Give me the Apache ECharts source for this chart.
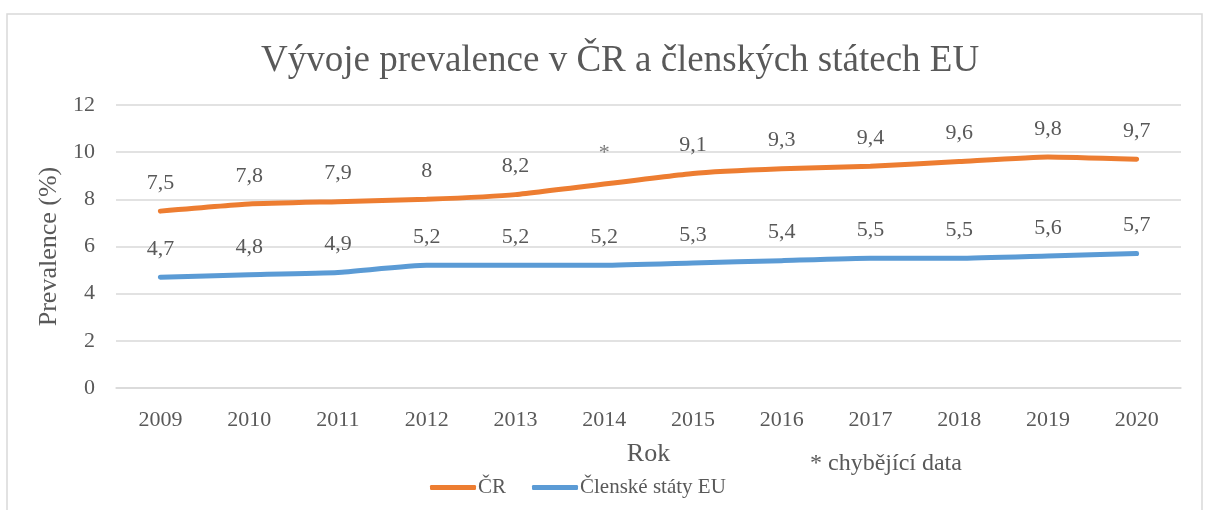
<!DOCTYPE html>
<html lang="cs">
<head>
    <meta charset="UTF-8">
    <title>Vývoje prevalence</title>
    <script src="https://cdn.jsdelivr.net/npm/echarts@6/dist/echarts.min.js"></script>
    <style>
        html, body { margin: 0; padding: 0; background: #fff; }
        #chart { width: 1205px; height: 510px; }
    </style>
</head>
<body>
<div id="chart"></div>
<script>
    // data
    var years = ['2009', '2010', '2011', '2012', '2013', '2014', '2015', '2016', '2017', '2018', '2019', '2020'];
    var cr = [7.5, 7.8, 7.9, 8, 8.2, null, 9.1, 9.3, 9.4, 9.6, 9.8, 9.7];   // 2014 chybí
    var eu = [4.7, 4.8, 4.9, 5.2, 5.2, 5.2, 5.3, 5.4, 5.5, 5.5, 5.6, 5.7];
    var missing = [['2014', 8.65]];   // kde je hvězdička

    var font = 'Liberation Serif, Times New Roman, serif';
    var grey = '#595959';

    var chart = echarts.init(document.getElementById('chart'));

    // desetinná čárka
    function fmt(p) {
        return String(p.value).replace('.', ',');
    }

    var option = {
        animation: false,
        textStyle: { fontFamily: font },
        title: {
            text: 'Vývoje prevalence v ČR a členských státech EU',
            left: 256,
            top: 38,
            textStyle: { fontFamily: font, fontSize: 37, fontWeight: 'normal', color: grey }
        },
        legend: {
            bottom: 7,
            left: 425,
            itemGap: 26,
            itemWidth: 46,
            itemHeight: 5,
            icon: 'roundRect',
            data: ['ČR', 'Členské státy EU'],
            textStyle: { fontFamily: font, fontSize: 21, color: grey, padding: [0, 0, 0, -3] }
        },
        grid: { left: 116, right: 24, top: 105, bottom: 122 },
        xAxis: {
            type: 'category',
            data: years,
            name: 'Rok',
            nameLocation: 'middle',
            nameGap: 53,
            nameTextStyle: { fontFamily: font, fontSize: 26, color: grey },
            axisLine: { show: true, lineStyle: { color: '#d9d9d9', width: 1.5 } },
            axisTick: { show: false },
            axisLabel: { fontFamily: font, fontSize: 22, color: grey, margin: 21 }
        },
        yAxis: {
            type: 'value',
            min: 0,
            max: 12,
            interval: 2,
            name: 'Prevalence (%)',
            nameLocation: 'middle',
            nameGap: 53,
            nameTextStyle: { fontFamily: font, fontSize: 26, color: grey },
            axisLabel: { fontFamily: font, fontSize: 22, color: grey, margin: 21 },
            splitLine: { lineStyle: { color: '#d9d9d9', width: 1.5 } }
        },
        graphic: [
            {
                type: 'rect',
                shape: { x: 7, y: 14, width: 1195, height: 520 },
                style: { fill: 'none', stroke: '#d9d9d9', lineWidth: 1.5 },
                silent: true
            },
            {
                type: 'text',
                left: 810,
                top: 452,
                style: { text: '* chybějící data', font: '24px ' + font, fill: grey }
            }
        ],
        series: [
            {
                name: 'ČR',
                type: 'line',
                data: cr,
                connectNulls: true,
                smooth: 0.15,
                symbol: 'circle',
                symbolSize: 0,
                showSymbol: true,
                lineStyle: { color: '#ED7D31', width: 5, cap: 'round' },
                itemStyle: { color: '#ED7D31' },
                label: {
                    show: true, position: 'top', distance: 17,
                    fontFamily: font, fontSize: 22, color: grey, formatter: fmt
                },
                labelLayout: { hideOverlap: false }
            },
            {
                name: 'Členské státy EU',
                type: 'line',
                data: eu,
                smooth: 0.15,
                symbol: 'circle',
                symbolSize: 0,
                showSymbol: true,
                lineStyle: { color: '#5B9BD5', width: 5, cap: 'round' },
                itemStyle: { color: '#5B9BD5' },
                label: {
                    show: true, position: 'top', distance: 17,
                    fontFamily: font, fontSize: 22, color: grey, formatter: fmt
                },
                labelLayout: { hideOverlap: false }
            },
            {
                name: 'chybí',
                type: 'scatter',
                data: missing,
                symbolSize: 0,
                silent: true,
                label: {
                    show: true, position: 'top', distance: 20,
                    fontFamily: font, fontSize: 22, color: grey, formatter: '*'
                }
            }
        ]
    };

    chart.setOption(option);
</script>
</body>
</html>
